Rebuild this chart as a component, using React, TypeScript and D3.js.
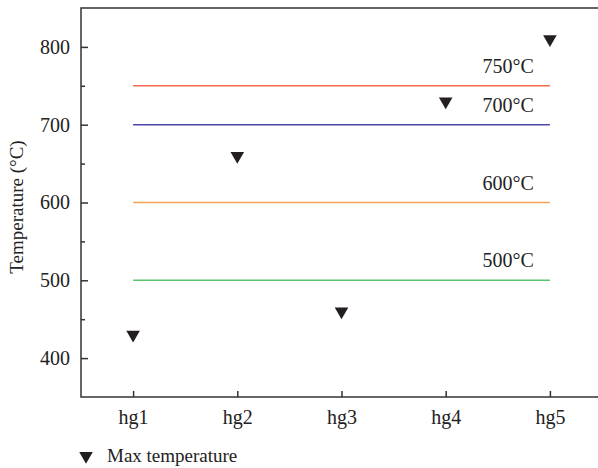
import React, { useEffect, useRef } from 'react'
import * as d3 from 'd3'

const categories = ['hg1', 'hg2', 'hg3', 'hg4', 'hg5']
const maxTemperature = [430, 660, 460, 730, 810]
const refTemps = [750, 700, 600, 500]
const refLabels = ['750°C', '700°C', '600°C', '500°C']
const refColors = ['#f26a4f', '#4a45a8', '#f5a35c', '#5cc46a']
const yTicks = [400, 500, 600, 700, 800]
const yMinorTicks = [450, 550, 650, 750]

const width = 598
const height = 468
const margin = { left: 81, right: -4, top: 8, bottom: 71 }
const font = '"Liberation Serif", "Times New Roman", serif'

export default function App() {
  const svgRef = useRef<SVGSVGElement>(null)

  useEffect(() => {
    const svg = d3.select(svgRef.current)
    svg.selectAll('*').remove()

    const x = d3.scalePoint<string>()
      .domain(categories)
      .range([margin.left, width - margin.right])
      .padding(0.5)
    const y = d3.scaleLinear()
      .domain([350, 850])
      .range([height - margin.bottom, margin.top])

    // frame
    svg.append('rect')
      .attr('x', margin.left)
      .attr('y', margin.top)
      .attr('width', width - margin.right - margin.left)
      .attr('height', height - margin.bottom - margin.top)
      .attr('fill', 'none')
      .attr('stroke', '#333')
      .attr('stroke-width', 1.5)

    // y axis, ticks pointing inward
    const yAxis = svg.append('g')
      .attr('transform', 'translate(' + margin.left + ',0)')
      .call(d3.axisRight(y).tickValues(yTicks).tickSize(7).tickFormat(d3.format('d')))
    yAxis.select('.domain').remove()
    yAxis.selectAll('line').attr('stroke', '#333').attr('stroke-width', 1.5)
    yAxis.selectAll('text')
      .attr('x', -11)
      .attr('text-anchor', 'end')
      .style('font-family', font)
      .style('font-size', '20px')
      .attr('fill', '#222')

    const yMinor = svg.append('g')
      .attr('transform', 'translate(' + margin.left + ',0)')
      .call(d3.axisRight(y).tickValues(yMinorTicks).tickSize(4).tickFormat(() => ''))
    yMinor.select('.domain').remove()
    yMinor.selectAll('line').attr('stroke', '#333').attr('stroke-width', 1.5)

    // x axis, ticks pointing inward
    const xAxis = svg.append('g')
      .attr('transform', 'translate(0,' + (height - margin.bottom) + ')')
      .call(d3.axisTop(x).tickSize(6))
    xAxis.select('.domain').remove()
    xAxis.selectAll('line').attr('stroke', '#333').attr('stroke-width', 1.5)
    xAxis.selectAll('text')
      .attr('y', 27)
      .style('font-family', font)
      .style('font-size', '20px')
      .attr('fill', '#222')

    // axis title
    svg.append('text')
      .attr('transform', 'translate(23,207) rotate(-90)')
      .attr('text-anchor', 'middle')
      .style('font-family', font)
      .style('font-size', '19px')
      .attr('fill', '#222')
      .text('Temperature (°C)')

    // reference lines
    const first = x(categories[0]) as number
    const last = x(categories[categories.length - 1]) as number
    refTemps.forEach((t, i) => {
      svg.append('line')
        .attr('x1', first)
        .attr('x2', last)
        .attr('y1', y(t))
        .attr('y2', y(t))
        .attr('stroke', refColors[i])
        .attr('stroke-width', 1.5)
      svg.append('text')
        .attr('x', last - 16)
        .attr('y', y(t) - 13)
        .attr('text-anchor', 'end')
        .style('font-family', font)
        .style('font-size', '20px')
        .attr('fill', '#222')
        .text(refLabels[i])
    })

    // markers
    const tri = d3.symbol().type(d3.symbolTriangle).size(80)
    svg.selectAll('.pt')
      .data(maxTemperature)
      .enter()
      .append('path')
      .attr('class', 'pt')
      .attr('d', tri)
      .attr('transform', (d, i) => 'translate(' + x(categories[i]) + ',' + y(d) + ') rotate(180)')
      .attr('fill', '#231f20')

    // legend
    svg.append('path')
      .attr('d', tri)
      .attr('transform', 'translate(86,456) rotate(180)')
      .attr('fill', '#231f20')
    svg.append('text')
      .attr('x', 107)
      .attr('y', 462)
      .style('font-family', font)
      .style('font-size', '19px')
      .attr('fill', '#222')
      .text('Max temperature')
  }, [])

  return (
    <div style={{ position: 'absolute', left: 0, top: 0 }}>
      <svg ref={svgRef} width={width} height={height} style={{ display: 'block', background: '#fff' }} />
    </div>
  )
}
